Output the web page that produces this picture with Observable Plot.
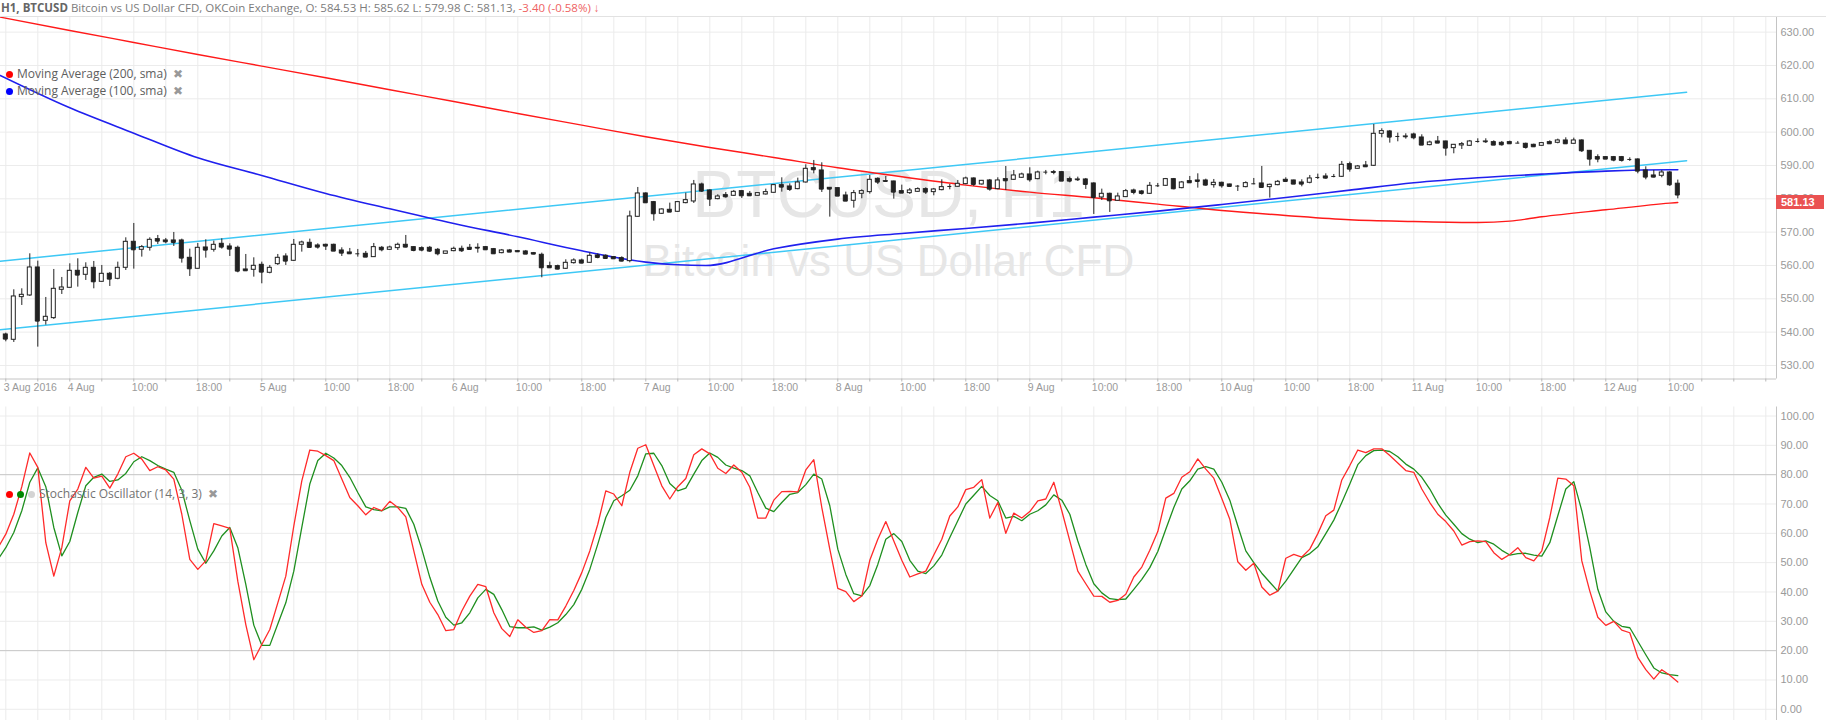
<!DOCTYPE html>
<html>
<head>
<meta charset="utf-8">
<script src="https://cdn.jsdelivr.net/npm/d3@7"></script>
<script src="https://cdn.jsdelivr.net/npm/@observablehq/plot@0.6"></script>
<style>
html,body{margin:0;padding:0;background:#fff;}
#wrap{position:relative;width:1826px;height:720px;overflow:hidden;font-family:"Open Sans",sans-serif;}
#top,#bottom{position:absolute;left:0;}
#top{top:0;}
#bottom{top:400px;}
.title{position:absolute;left:1px;top:-1px;font-size:11.5px;color:#7c7c7c;white-space:nowrap;line-height:18px;}
.title b{color:#666;}
.title .chg{color:#ee6262;}
.legend{position:absolute;font-size:12px;color:#5e5e5e;white-space:nowrap;line-height:16px;}
.dot{display:inline-block;width:7px;height:7px;border-radius:50%;margin-right:4px;vertical-align:0px;}
.x{color:#999;font-size:12px;margin-left:6px;}
#lastBox{position:absolute;left:1776px;width:48px;height:14px;background:#ea5252;color:#fff;font:bold 11px "Liberation Sans",Arial,sans-serif;line-height:14px;padding-left:5px;box-sizing:border-box;}
#topLine{position:absolute;left:0;top:15.5px;width:1826px;height:1px;background:#e2e2e2;}
</style>
</head>
<body>
<div id="wrap">
  <div id="top"></div>
  <div id="bottom"></div>
  <div id="topLine"></div>
  <div class="title" id="title"></div>
  <div class="legend" style="left:6px;top:66px;"><span class="dot" style="background:#f00"></span>Moving Average (200, sma)<span class="x">&#10006;</span></div>
  <div class="legend" style="left:6px;top:82.5px;"><span class="dot" style="background:#00f"></span>Moving Average (100, sma)<span class="x">&#10006;</span></div>
  <div class="legend" style="left:6px;top:486px;color:#737373;"><span class="dot" style="background:#f00"></span><span class="dot" style="background:#080"></span><span class="dot" style="background:#d4d4d4"></span>Stochastic Oscillator (14, 3, 3)<span class="x">&#10006;</span></div>
  <div id="lastBox"></div>
</div>
<script>
// ---------- DATA ----------
// hour index: 0 = "4 Aug" tick, one candle per hour
const firstCandleHour = -8;
const candleOpen = [539.3,537.7,550.5,551.0,559.4,543.4,544.2,552.7,553.3,558.4,557.2,559.3,555.1,557.5,556.0,559.3,567.1,564.7,565.3,567.9,567.5,567.5,567.5,562.3,559.0,565.4,564.7,566.5,565.7,565.3,558.8,558.7,560.2,557.8,560.4,562.7,561.4,566.2,566.8,566.0,566.2,566.2,564.5,563.9,563.5,563.5,562.5,565.3,564.7,565.2,566.2,565.5,565.2,565.3,564.7,563.5,564.3,565.0,565.3,565.3,565.5,564.9,563.7,564.5,564.3,564.2,563.7,563.2,559.8,559.8,559.0,560.7,561.5,560.8,563.0,562.9,562.5,562.2,561.3,574.6,581.6,579.0,575.5,576.7,576.1,578.7,579.2,584.3,582.5,579.9,581.1,580.9,582.3,581.5,580.9,581.3,581.8,584.1,583.7,582.9,584.9,589.2,588.5,583.3,583.2,581.0,579.4,581.5,582.0,586.0,585.3,585.2,582.3,581.7,582.1,582.9,582.0,582.6,583.7,583.6,584.4,586.1,584.3,585.5,582.9,585.9,585.7,586.3,587.3,585.9,588.0,588.0,588.0,585.9,585.8,585.8,584.6,580.4,581.5,579.4,580.5,582.5,582.2,581.5,583.9,583.9,585.9,583.2,585.3,585.5,585.5,584.1,584.8,584.3,583.8,583.5,584.5,584.6,583.5,584.1,585.7,585.5,584.9,584.8,586.4,586.7,586.7,586.6,590.4,589.0,590.0,589.9,599.5,600.2,598.7,598.7,599.3,598.4,596.1,597.2,597.2,595.2,596.0,595.9,597.2,597.2,597.0,596.8,597.0,596.7,596.5,596.2,595.9,597.0,596.8,597.5,596.5,597.5,594.4,592.5,592.5,592.5,592.5,591.8,591.8,588.5,587.0,586.9,587.9,584.53];
const candleHigh = [539.7,552.7,553.0,563.5,561.3,550.4,558.8,556.4,560.5,562.0,560.8,561.2,560.0,557.9,561.0,568.3,572.6,566.0,568.3,569.0,568.1,569.9,567.9,564.9,566.6,567.7,567.3,568.0,566.5,565.8,563.3,562.3,561.0,560.0,563.3,563.5,567.8,567.3,567.9,566.5,566.4,566.4,565.3,565.1,564.8,564.2,566.6,565.7,565.8,566.7,569.0,565.6,565.6,565.7,565.1,564.2,565.5,565.8,566.3,566.5,565.7,565.1,564.8,564.8,564.5,564.5,563.9,563.7,561.0,560.1,561.7,562.0,561.9,563.8,563.5,563.2,562.6,562.6,576.3,583.4,581.8,579.2,577.0,578.7,579.2,581.7,585.5,584.7,582.7,581.2,581.9,582.5,582.5,582.2,581.8,582.9,584.3,586.3,584.5,586.2,590.2,591.5,590.8,583.3,583.3,582.0,582.5,582.7,587.0,586.3,586.7,585.3,584.1,583.1,583.3,583.3,583.1,585.7,584.3,585.5,586.5,586.3,585.5,585.8,586.3,589.7,588.5,587.7,589.3,588.3,588.5,588.5,588.2,586.5,586.5,586.1,584.8,582.9,581.7,581.7,582.8,582.9,582.5,584.9,584.6,586.1,586.1,585.2,586.7,587.5,585.9,585.8,585.0,584.4,584.0,585.1,586.1,589.7,584.4,585.5,586.3,585.6,585.7,587.0,587.4,587.5,587.3,591.2,591.0,590.0,591.2,602.3,601.0,600.5,599.7,599.5,599.7,599.2,597.3,598.7,597.3,596.3,596.9,597.5,598.0,598.0,597.4,597.2,597.3,597.2,596.7,596.4,596.9,597.4,597.9,598.3,598.2,597.7,594.5,593.2,592.6,592.7,592.7,592.3,592.0,589.6,588.5,588.5,588.2,585.62];
const candleLow = [537.1,536.9,548.0,550.7,535.5,542.1,543.8,551.3,553.2,553.5,555.5,553.0,555.0,553.7,555.7,558.5,558.9,562.5,564.3,566.3,566.5,565.7,560.7,556.7,558.9,562.2,564.0,564.9,562.7,557.8,558.3,556.5,554.5,557.5,560.0,560.0,561.2,564.0,565.2,564.9,564.5,564.2,562.7,563.4,562.5,562.4,562.4,564.1,564.5,564.5,565.3,564.1,564.1,563.9,562.9,563.4,564.1,563.9,564.5,563.7,564.5,563.4,563.5,563.9,563.9,563.3,563.2,556.3,559.2,558.7,558.8,560.4,560.5,560.7,562.0,561.9,561.9,561.1,560.8,574.5,578.6,573.3,575.3,575.9,575.9,578.5,578.6,581.9,577.7,579.7,580.2,580.7,580.1,580.8,580.8,581.1,581.7,582.0,582.2,582.7,584.7,587.5,581.9,574.5,580.7,579.2,577.2,580.0,581.4,584.3,585.2,579.9,581.6,581.3,581.9,581.3,580.9,582.4,582.7,583.5,584.2,583.7,584.1,582.3,582.7,582.5,585.5,586.1,585.0,585.7,587.2,587.2,585.2,584.8,585.2,582.8,575.3,579.5,575.9,579.2,580.4,581.2,581.1,581.3,583.4,583.7,582.7,583.0,584.6,583.2,583.8,583.2,583.2,583.5,582.2,583.3,584.2,583.3,580.2,583.9,585.1,584.3,583.6,584.5,585.8,585.9,586.3,586.4,588.0,588.9,589.5,589.7,598.3,596.7,597.1,597.9,597.7,596.0,595.9,596.6,592.8,593.5,594.8,595.7,596.7,596.6,596.0,595.8,596.3,596.5,594.9,595.4,595.8,596.4,596.5,596.4,596.4,593.9,589.8,590.8,591.8,591.1,591.0,591.2,587.5,585.7,586.3,586.3,583.7,579.98];
const candleClose = [537.9,550.7,551.2,559.4,543.3,544.6,553.0,553.4,558.4,557.1,559.3,555.1,557.5,555.9,559.3,567.1,564.7,565.5,567.7,567.3,567.1,566.9,562.2,559.0,565.3,564.6,566.2,565.5,564.9,558.3,558.4,559.9,558.0,559.3,562.3,561.3,566.2,566.9,565.4,565.5,565.8,564.3,563.7,563.5,563.5,562.5,565.5,564.7,565.4,566.2,565.5,564.5,564.6,564.3,563.5,564.2,565.0,564.4,564.8,565.2,564.7,563.5,564.5,564.0,564.1,563.4,563.4,559.3,559.3,558.9,560.8,561.5,560.7,562.9,562.4,562.1,562.0,561.3,574.7,581.6,578.8,575.5,576.8,576.0,579.0,579.6,584.3,582.3,579.9,580.7,580.6,582.1,580.9,580.9,581.7,582.0,584.1,583.5,582.8,584.9,589.0,588.7,582.9,582.9,580.8,579.3,581.7,582.3,585.7,585.0,585.2,582.0,581.7,582.5,582.9,582.0,582.8,583.5,583.7,584.5,586.1,584.3,585.4,582.9,585.5,585.4,587.0,587.3,585.7,587.9,588.0,587.9,585.3,585.3,585.7,584.3,580.4,581.5,579.4,580.7,582.3,581.9,581.6,583.9,583.9,585.9,583.0,584.9,584.8,585.2,584.1,584.8,583.9,583.7,583.8,584.7,584.5,583.4,584.2,585.1,585.2,584.4,584.4,586.1,586.4,586.2,586.7,590.2,588.9,589.7,589.6,599.5,600.3,598.5,598.7,598.6,598.3,596.1,596.9,596.7,595.2,596.2,596.4,597.2,597.2,597.1,596.1,596.2,596.5,596.7,595.4,595.6,596.7,596.5,597.5,596.5,597.5,594.4,591.9,591.9,591.9,591.6,591.5,591.8,588.3,586.5,586.5,587.9,584.2,581.13];

// moving averages read at sample hours
const ma200Hours = [-8.7,0,8,16,24,32,40,48,56,64,72,80,88,96,104,112,120,128,136,144,152,160,168,176,180,184,192,200,201];
const ma200Values = [634.5,630.5,626.9,623.3,619.8,616.3,612.7,609.2,605.6,602.1,598.6,595.4,592.4,589.3,586.6,584.1,582.0,580.3,578.4,576.5,575.0,573.7,573.2,572.9,573.3,574.6,576.7,578.7,578.9];
const ma100Hours = [-8.7,0,8,16,24,32,40,48,56,64,72,76,79.5,88,96,104,112,120,128,136,144,152,160,168,176,184,192,200,201];
const ma100Values = [617.0,607.3,599.7,592.3,587.0,581.6,577.0,572.6,568.6,564.4,561.0,560.2,560.0,565.0,567.9,569.6,571.1,572.7,574.5,576.3,578.3,580.4,582.6,584.8,586.3,587.4,588.3,588.7,588.7];

// trend channel (two drawn lines)
const channelHours = [-8.7, 202.1];
const channelUpper = [561.3, 612.0];
const channelLower = [540.7, 591.4];

// stochastic (14,3,3), from hour -9
const stochStartHour = -9;
const stochK = [55,59.7,66.5,75.9,87.4,82.5,56.8,45.4,55.1,71.1,75.1,82.5,78.8,79.5,75.4,80.2,86.1,87.3,85.3,81.4,82.7,81.6,78.5,66.5,51.1,47.7,50.6,63.3,62.5,61.7,43.7,28.9,16.9,22.1,27.2,36.3,45.4,62.5,77.9,88.4,88.0,86.5,84.8,78.5,72.2,69.4,66.3,68.8,67.7,70.9,68.8,65.6,54.0,42.6,36.5,32.3,26.8,27.2,33.5,38.6,42.6,41.8,32.9,27.5,24.8,30.5,28.0,26.2,26.8,30.6,30.5,35.2,40.5,46.6,54.0,63.1,74.5,73.4,69.4,80.8,89.0,90.2,83.1,76.2,71.7,75.9,78.7,86.8,88.8,87.1,82.2,80.4,83.3,80.8,75.7,65.2,65.2,71.3,74.2,74.3,74.1,81.6,85.1,68.8,54.6,41.2,40.1,36.7,38.6,50.8,58.0,64.0,57.4,50.8,45.1,46.2,47.1,52.6,58.0,65.9,69.0,74.9,75.7,78.3,65.2,70.5,60.0,66.9,65.2,67.4,71.1,71.7,77.4,67.7,57.4,47.1,42.8,38.6,38.5,36.5,37.1,39.2,45.1,48.5,54.2,60.6,72.0,73.6,79.1,81.0,85.4,81.9,78.8,71.9,64.8,50.3,47.4,49.8,41.7,38.9,40.3,51.5,52.8,51.9,54.6,59.9,66.0,67.9,78.2,83.1,88.4,87.5,88.8,88.8,86.5,84.0,81.4,80.8,75.1,70.5,66.5,64.0,60.8,56.0,57.2,57.4,57.2,53.4,51.1,52.8,55.1,51.7,50.6,54.0,65.4,78.8,78.5,76.2,50.6,40.3,31.4,28.6,30.0,27.0,26.1,17.7,13.5,10.3,13.5,11.6,9.3];
const stochD = [51,55.1,60.3,67.7,77.4,82.3,75.9,62.0,52.3,57.2,67.1,76.2,79.1,80.2,77.7,78.2,80.4,84.4,86.1,84.8,83.1,81.9,80.8,74.7,64.3,54.6,49.8,54.0,59.1,62.0,55.1,42.6,28.7,21.8,21.8,29.1,36.3,47.1,62.0,76.8,84.8,87.3,85.7,83.1,79.1,73.9,69.0,68.1,67.7,69.0,69.0,68.5,63.1,54.6,45.0,36.9,31.4,28.7,29.5,32.9,38.0,40.9,39.2,34.0,28.2,27.8,27.8,28.1,27.0,28.0,29.5,32.3,35.7,40.9,47.7,56.3,65.4,71.1,72.8,74.7,79.6,87.1,87.3,83.1,77.0,74.5,75.4,80.2,84.8,87.4,85.9,83.3,82.2,81.4,79.6,73.9,68.6,67.4,70.5,73.3,73.9,76.6,80.2,78.5,69.4,54.6,46.0,39.4,38.7,42.2,49.4,58.0,59.9,57.2,50.8,47.1,46.3,48.9,52.6,58.6,64.3,70.0,73.0,76.0,72.9,71.1,65.2,65.8,64.3,66.5,67.7,69.7,73.1,71.3,66.5,57.4,49.4,42.8,39.7,37.7,37.4,37.6,40.9,44.3,48.3,53.8,61.4,68.8,75.1,77.9,81.9,82.7,81.9,77.4,71.3,62.5,54.0,50.0,46.4,43.3,40.3,43.7,47.7,51.7,53.1,55.4,59.9,64.5,70.5,76.8,83.4,86.5,88.2,88.4,87.9,86.1,83.6,81.9,79.1,75.1,70.2,66.2,63.1,59.9,58.0,56.8,57.4,56.3,54.2,52.6,53.1,53.2,52.6,52.2,56.8,66.0,75.1,77.6,67.7,55.1,40.9,33.2,30.0,28.3,27.8,23.2,18.6,14.1,12.4,11.8,11.5];
const stochBands = [80, 20];

// axes
const priceTicks = [530,540,550,560,570,580,590,600,610,620,630];
const stochTicks = [0,10,20,30,40,50,60,70,80,90,100];
const gridHours = d3.range(-8, 213, 4);
const xLabelHours = [-8,0,8,16,24,32,40,48,56,64,72,80,88,96,104,112,120,128,136,144,152,160,168,176,184,192,200];
const xLabels = ["3 Aug 2016","4 Aug","10:00","18:00","5 Aug","10:00","18:00","6 Aug","10:00","18:00","7 Aug","10:00","18:00","8 Aug","10:00","18:00","9 Aug","10:00","18:00","10 Aug","10:00","18:00","11 Aug","10:00","18:00","12 Aug","10:00"];

// ---------- BUILD ----------
const candles = candleOpen.map((o, i) => ({h: firstCandleHour + i, o, hi: candleHigh[i], lo: candleLow[i], c: candleClose[i]}));
const ma200 = ma200Hours.map((h, i) => ({h, v: ma200Values[i]}));
const ma100 = ma100Hours.map((h, i) => ({h, v: ma100Values[i]}));
const upper = channelHours.map((h, i) => ({h, v: channelUpper[i]}));
const lower = channelHours.map((h, i) => ({h, v: channelLower[i]}));
const stoch = stochK.map((k, i) => ({h: stochStartHour + i, k, d: stochD[i]}));

const xDomain = [-8.6625, 213.3375];
const priceDomain = [525.94, 634.69];
const stochDomain = [-3.82, 103.07];
const axisFont = '"Liberation Sans", Arial, sans-serif';
const gridColor = "#ececec";
const half = 0.25;

const topChart = Plot.plot({
  width: 1826, height: 400,
  marginLeft: 0, marginRight: 50, marginTop: 16, marginBottom: 21.5,
  style: {background: "transparent", fontFamily: axisFont},
  x: {domain: xDomain, axis: null, label: null},
  y: {domain: priceDomain, axis: null, label: null},
  marks: [
    Plot.gridY(priceTicks, {stroke: gridColor, strokeOpacity: 1}),
    Plot.gridX(gridHours, {stroke: gridColor, strokeOpacity: 1}),
    Plot.text(["BTCUSD, H1"], {frameAnchor: "top", dy: 154, fontSize: 66, fill: "#e6e6e6", fontFamily: axisFont}),
    Plot.text(["Bitcoin vs US Dollar CFD"], {frameAnchor: "top", dy: 228, fontSize: 44, fill: "#e6e6e6", fontFamily: axisFont}),
    Plot.line(upper, {x: "h", y: "v", stroke: "#3ec8f5", strokeWidth: 1.5, clip: true}),
    Plot.line(lower, {x: "h", y: "v", stroke: "#3ec8f5", strokeWidth: 1.5, clip: true}),
    Plot.line(ma200, {x: "h", y: "v", stroke: "#ff1a1a", strokeWidth: 1.4, curve: "monotone-x", clip: true}),
    Plot.line(ma100, {x: "h", y: "v", stroke: "#2020ee", strokeWidth: 1.6, curve: "monotone-x", clip: true}),
    Plot.ruleX(candles, {x: "h", y1: "lo", y2: "hi", stroke: "#222", strokeWidth: 1}),
    Plot.ruleY(candles, {y: "c", x1: d => d.h - half, x2: d => d.h + half, stroke: "#222", strokeWidth: 1}),
    Plot.rect(candles, {x1: d => d.h - half, x2: d => d.h + half, y1: "o", y2: "c",
      fill: d => d.c >= d.o ? "#fff" : "#222", stroke: "#222", strokeWidth: 1}),
    Plot.ruleY([priceDomain[0]], {stroke: "#c4c4c4"}),
    Plot.ruleX([xDomain[1]], {stroke: "#c4c4c4"}),
    Plot.axisY(priceTicks, {anchor: "right", label: null, tickSize: 0, tickPadding: 4, fontSize: 11, fill: "#9a9a9a",
      tickFormat: d => d.toFixed(2), fontFamily: axisFont}),
    Plot.axisX(gridHours, {anchor: "bottom", label: null, tickSize: 3, stroke: "#b8b8b8", tickFormat: () => ""}),
    Plot.axisX(xLabelHours, {anchor: "bottom", label: null, tickSize: 0, tickPadding: 5, fontSize: 10.5, fill: "#9a9a9a",
      textAnchor: "start", dx: -2, tickFormat: d => xLabels[xLabelHours.indexOf(d)], fontFamily: axisFont})
  ]
});
document.getElementById("top").appendChild(topChart);

const bottomChart = Plot.plot({
  width: 1826, height: 320,
  marginLeft: 0, marginRight: 50, marginTop: 6.5, marginBottom: 0,
  style: {background: "transparent", fontFamily: axisFont},
  x: {domain: xDomain, axis: null, label: null},
  y: {domain: stochDomain, axis: null, label: null},
  marks: [
    Plot.gridY(stochTicks, {stroke: gridColor, strokeOpacity: 1}),
    Plot.gridX(gridHours, {stroke: gridColor, strokeOpacity: 1}),
    Plot.ruleY(stochBands, {stroke: "#c8c8c8", strokeWidth: 1}),
    Plot.line(stoch, {x: "h", y: "d", stroke: "#1f8f1f", strokeWidth: 1.3, clip: true}),
    Plot.line(stoch, {x: "h", y: "k", stroke: "#ff2a2a", strokeWidth: 1.3, clip: true}),
    Plot.ruleX([xDomain[1]], {stroke: "#c4c4c4"}),
    Plot.axisY(stochTicks, {anchor: "right", label: null, tickSize: 0, tickPadding: 4, fontSize: 11, fill: "#9a9a9a",
      tickFormat: d => d.toFixed(2), fontFamily: axisFont})
  ]
});
document.getElementById("bottom").appendChild(bottomChart);

// title from last candle
const n = candles.length - 1, last = candles[n];
const chg = last.c - last.o;
document.getElementById("title").innerHTML =
  `<b>H1, BTCUSD</b> Bitcoin vs US Dollar CFD, OKCoin Exchange, O: ${last.o.toFixed(2)} H: ${last.hi.toFixed(2)} L: ${last.lo.toFixed(2)} C: ${last.c.toFixed(2)}, <span class="chg">${chg.toFixed(2)} (${(chg / last.o * 100).toFixed(2)}%) &#8595;</span>`;

// last price label
const yScale = topChart.scale("y");
const box = document.getElementById("lastBox");
box.textContent = last.c.toFixed(2);
box.style.top = (yScale.apply(last.c)) + "px";
</script>
</body>
</html>
